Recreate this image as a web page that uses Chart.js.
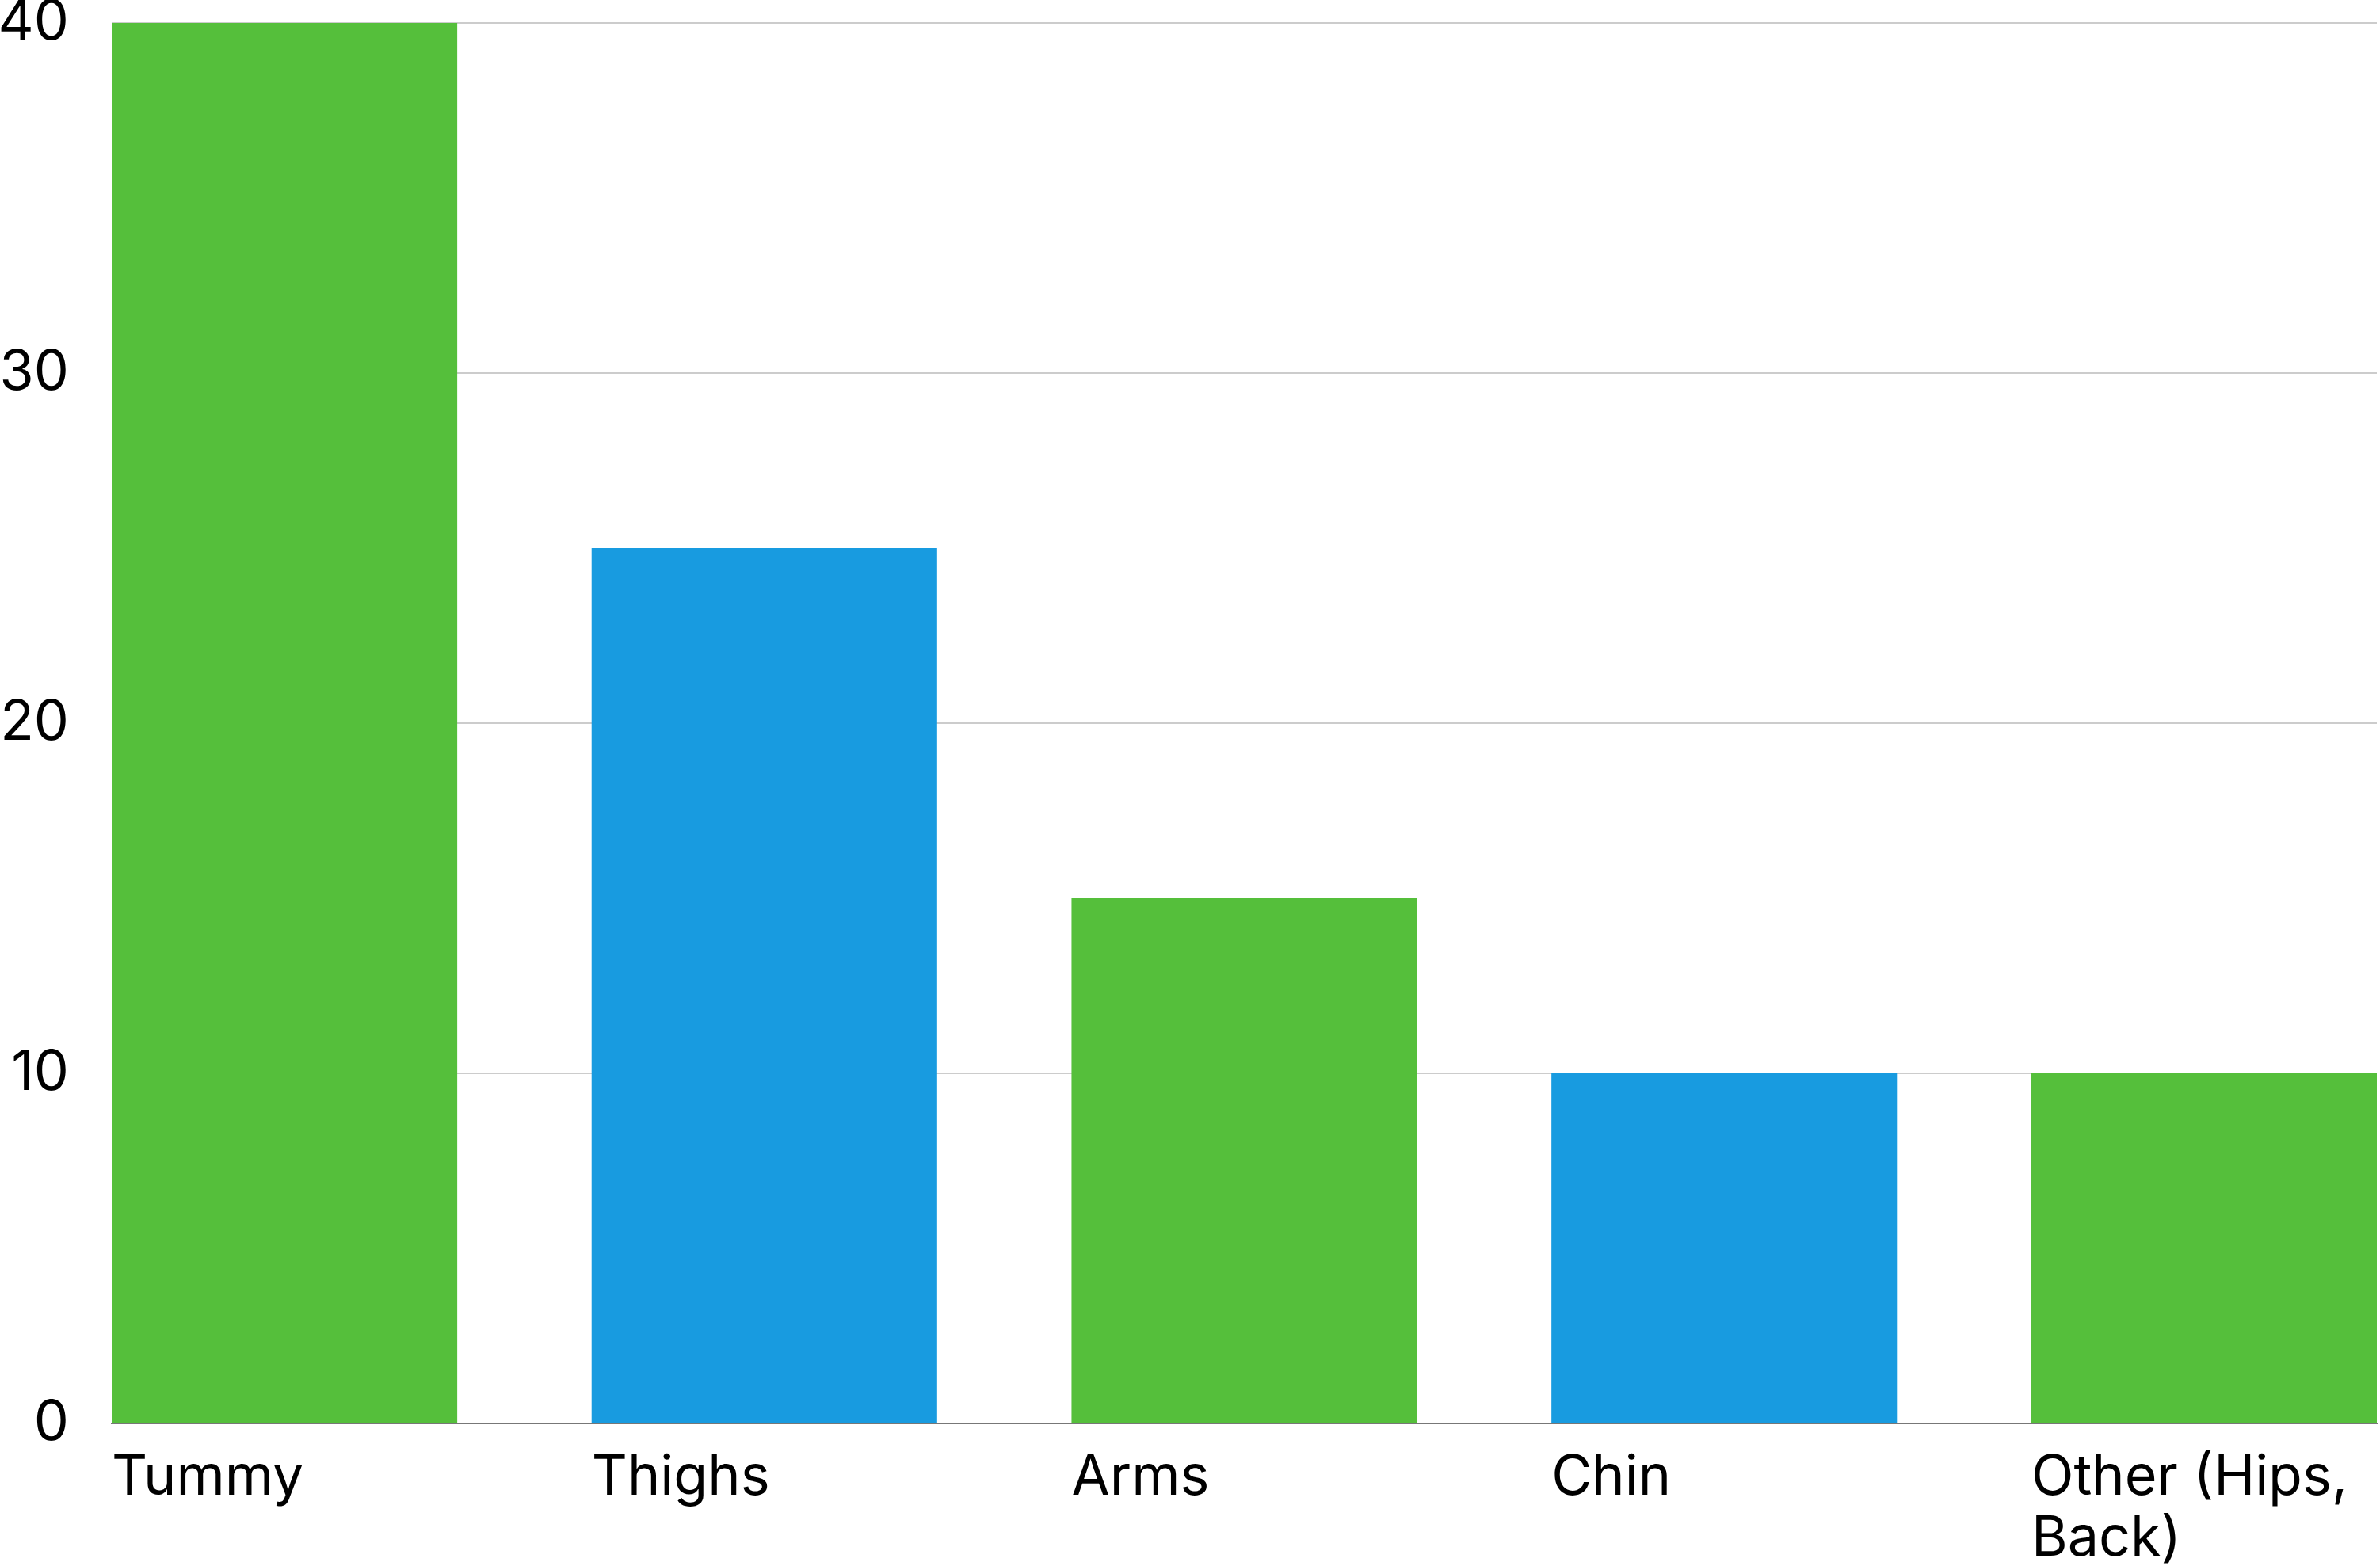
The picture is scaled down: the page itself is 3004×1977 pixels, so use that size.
<!DOCTYPE html>
<html>
<head>
<meta charset="utf-8">
<script src="https://cdn.jsdelivr.net/npm/chart.js@4/dist/chart.umd.min.js"></script>
<style>
  html, body { margin: 0; padding: 0; background: #fff; }
  #wrap { width: 3004px; height: 1977px; position: relative; }
</style>
</head>
<body>
<div id="wrap"><canvas id="chart"></canvas></div>
<script>
// --- data ---
const categories = ['Tummy', 'Thighs', 'Arms', 'Chin', ['Other (Hips,', 'Back)']];
const values = [40, 25, 15, 10, 10];
const barColors = ['#55bf3b', '#189be0', '#55bf3b', '#189be0', '#55bf3b'];
const yTicks = [0, 10, 20, 30, 40];

// bar takes 72% of the pitch, first/last bar flush with the plot edges
const barShare = 0.72;

const ctx = document.getElementById('chart');
new Chart(ctx, {
    type: 'bar',
    data: {
        datasets: [{
            data: values.map((v, i) => ({ x: i, y: v })),
            backgroundColor: barColors,
            borderWidth: 0,
            categoryPercentage: 1,
            barPercentage: barShare
        }]
    },
    options: {
        responsive: true,
        maintainAspectRatio: false,
        animation: false,
        layout: { padding: { top: 29, right: 4, left: 0, bottom: 0 } },
        plugins: {
            legend: { display: false },
            tooltip: { enabled: false }
        },
        scales: {
            x: {
                type: 'linear',
                offset: false,
                min: -barShare / 2,
                max: categories.length - 1 + barShare / 2,
                grid: { display: false, drawTicks: false, offset: false },
                border: { display: true, color: '#777777', width: 2 },
                afterBuildTicks: (scale) => {
                    scale.ticks = categories.map((_, i) => ({ value: i }));
                },
                afterFit: (scale) => {
                    scale.height = 180;
                    scale.paddingLeft = 0;
                    scale.paddingRight = 0;
                },
                ticks: {
                    autoSkip: false,
                    maxRotation: 0,
                    align: 'start',
                    labelOffset: -218,
                    padding: 30,
                    color: '#000',
                    font: { family: 'Inter', size: 70, lineHeight: 1.1 },
                    callback: (value) => categories[value]
                }
            },
            y: {
                min: 0,
                max: 40,
                grid: { color: '#cccccc', lineWidth: 2, drawTicks: false },
                border: { display: false },
                afterBuildTicks: (scale) => {
                    scale.ticks = yTicks.map(v => ({ value: v }));
                },
                afterFit: (scale) => {
                    scale.width = 141;
                    scale.paddingTop = 0;
                    scale.paddingBottom = 0;
                },
                ticks: {
                    padding: 54,
                    color: '#000',
                    font: { family: 'Inter', size: 70, lineHeight: 0.83 }
                }
            }
        }
    }
});
</script>
</body>
</html>
